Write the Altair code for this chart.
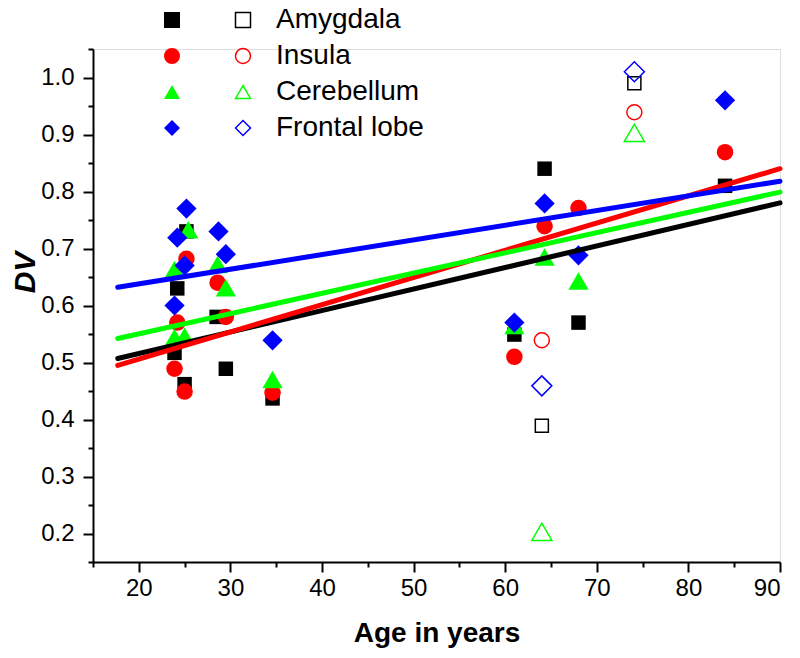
import altair as alt
import pandas as pd

regions = ["Amygdala", "Insula", "Cerebellum", "Frontal lobe"]
colors = ["#000000", "#ff0000", "#00ff00", "#0000ff"]
shapes = ["square", "circle", "triangle-up", "diamond"]

# filled symbols
amyg_age = [24.2, 25.2, 23.9, 25.0, 28.5, 29.5, 34.6, 61.0, 64.3, 68.0, 84.0]
amyg_dv = [0.63, 0.73, 0.517, 0.462, 0.58, 0.489, 0.437, 0.549, 0.84, 0.57, 0.81]
insula_age = [25.2, 24.2, 23.9, 25.0, 28.6, 29.5, 34.6, 61.0, 64.3, 68.0, 84.0]
insula_dv = [0.682, 0.57, 0.489, 0.449, 0.64, 0.58, 0.447, 0.51, 0.739, 0.771, 0.869]
cereb_age = [25.4, 23.9, 23.9, 25.0, 28.6, 29.5, 34.6, 61.0, 64.3, 68.0]
cereb_dv = [0.733, 0.663, 0.544, 0.546, 0.672, 0.631, 0.47, 0.565, 0.685, 0.643]
frontal_age = [25.2, 24.2, 25.0, 23.9, 28.7, 29.5, 34.6, 61.0, 64.3, 68.0, 84.0]
frontal_dv = [0.77, 0.719, 0.67, 0.60, 0.73, 0.69, 0.539, 0.57, 0.779, 0.688, 0.96]

# open symbols
open_age = [64.0, 74.1]
amyg_open_dv = [0.389, 0.99]
insula_open_dv = [0.539, 0.939]
cereb_open_dv = [0.203, 0.903]
frontal_open_dv = [0.459, 1.01]

# fitted lines (end points)
fit_age = [17.7, 90.0]
fit_start_dv = [0.507, 0.495, 0.542, 0.632]
fit_end_dv = [0.78, 0.84, 0.799, 0.818]

# axis ticks
x_major = [20, 30, 40, 50, 60, 70, 80, 90]
x_minor = [15, 25, 35, 45, 55, 65, 75, 85]
y_major = [0.2, 0.3, 0.4, 0.5, 0.6, 0.7, 0.8, 0.9, 1.0]
y_minor = [0.15, 0.25, 0.35, 0.45, 0.55, 0.65, 0.75, 0.85, 0.95, 1.05]

filled_rows = []
for reg, ages, vals in zip(regions, [amyg_age, insula_age, cereb_age, frontal_age],
                           [amyg_dv, insula_dv, cereb_dv, frontal_dv]):
    for a, v in zip(ages, vals):
        filled_rows.append({"region": reg, "age": a, "dv": v})
filled_df = pd.DataFrame(filled_rows)

open_rows = []
for reg, vals in zip(regions, [amyg_open_dv, insula_open_dv, cereb_open_dv, frontal_open_dv]):
    for a, v in zip(open_age, vals):
        open_rows.append({"region": reg, "age": a, "dv": v})
open_df = pd.DataFrame(open_rows)

line_rows = []
for reg, v0, v1 in zip(regions, fit_start_dv, fit_end_dv):
    line_rows.append({"region": reg, "age": fit_age[0], "dv": v0})
    line_rows.append({"region": reg, "age": fit_age[1], "dv": v1})
line_df = pd.DataFrame(line_rows)

FONT = "Liberation Sans"
xscale = alt.Scale(domain=[15, 90], nice=False, zero=False)
yscale = alt.Scale(domain=[0.15, 1.05], nice=False, zero=False)
cscale = alt.Scale(domain=regions, range=colors)
sscale = alt.Scale(domain=regions, range=shapes)

x_major_axis = alt.Axis(values=x_major, orient="bottom", title="Age in years", grid=False,
                        tickSize=10, tickWidth=2, domainWidth=2, domainColor="black",
                        tickColor="black", labelFont=FONT, labelFontSize=24, labelColor="black",
                        labelPadding=4, titleFont=FONT, titleFontSize=28, titleFontWeight="bold",
                        titleColor="black", titlePadding=19)
y_major_axis = alt.Axis(values=y_major, orient="left", format=".1f", title="DV", grid=False,
                        tickSize=10, tickWidth=2, domainWidth=2, domainColor="black",
                        tickColor="black", labelFont=FONT, labelFontSize=24, labelColor="black",
                        labelPadding=9, titleFont=FONT, titleFontSize=30, titleFontWeight="bold",
                        titleFontStyle="italic", titleColor="black", titleAngle=270,
                        titleX=-59, titleY=223, titleAlign="center", titleBaseline="alphabetic")
x_minor_axis = alt.Axis(values=x_minor, orient="bottom", title=None, grid=False, labels=False,
                        domain=False, tickSize=5, tickWidth=2, tickColor="black")
y_minor_axis = alt.Axis(values=y_minor, orient="left", title=None, grid=False, labels=False,
                        domain=False, tickSize=5, tickWidth=2, tickColor="black")

legend_filled = alt.Legend(orient="none", legendX=65, legendY=-43, title=None, symbolSize=256,
                           labelFont=FONT, labelFontSize=28, labelExpr="''", rowPadding=8,
                           padding=0, labelOffset=4, labelLimit=300)
legend_open = alt.Legend(orient="none", legendX=136, legendY=-43, title=None, symbolSize=225,
                         symbolStrokeWidth=1.5, labelFont=FONT, labelFontSize=28,
                         labelColor="black", rowPadding=8, padding=0, labelOffset=19,
                         labelLimit=300)

filled_size = {"expr": "datum.region === 'Amygdala' ? 210 : datum.region === 'Insula' ? 272 : 410"}
open_size = {"expr": "datum.region === 'Amygdala' ? 170 : datum.region === 'Insula' ? 225 : 400"}

filled = alt.Chart(filled_df).mark_point(filled=True, opacity=1, size=filled_size).encode(
    x=alt.X("age:Q", scale=xscale, axis=x_major_axis),
    y=alt.Y("dv:Q", scale=yscale, axis=y_major_axis),
    color=alt.Color("region:N", scale=cscale, legend=legend_filled),
    shape=alt.Shape("region:N", scale=sscale, legend=legend_filled),
)

open_pts = alt.Chart(open_df).mark_point(filled=False, opacity=1, strokeWidth=1.5, size=open_size).encode(
    x=alt.X("age:Q", scale=xscale, axis=x_minor_axis),
    y=alt.Y("dv:Q", scale=yscale, axis=y_minor_axis),
    color=alt.Color("region:N", scale=cscale, legend=legend_open),
    shape=alt.Shape("region:N", scale=sscale, legend=legend_open),
)

lines = alt.Chart(line_df).mark_line(strokeWidth=5, strokeCap="round").encode(
    x=alt.X("age:Q", scale=xscale, axis=None),
    y=alt.Y("dv:Q", scale=yscale, axis=None),
    color=alt.Color("region:N", scale=cscale, legend=None),
    detail="region:N",
)

chart = alt.layer(filled, open_pts, lines).resolve_scale(
    color="independent", shape="independent"
).resolve_axis(
    x="independent", y="independent"
).properties(
    width=687, height=513,
    autosize=alt.AutoSizeParams(type="none"),
    padding={"left": 85, "top": 41, "right": 12, "bottom": 95},
).configure_view(stroke=None).configure(background="white")

chart.save("out.html", embed_options={"renderer": "svg", "actions": False})
